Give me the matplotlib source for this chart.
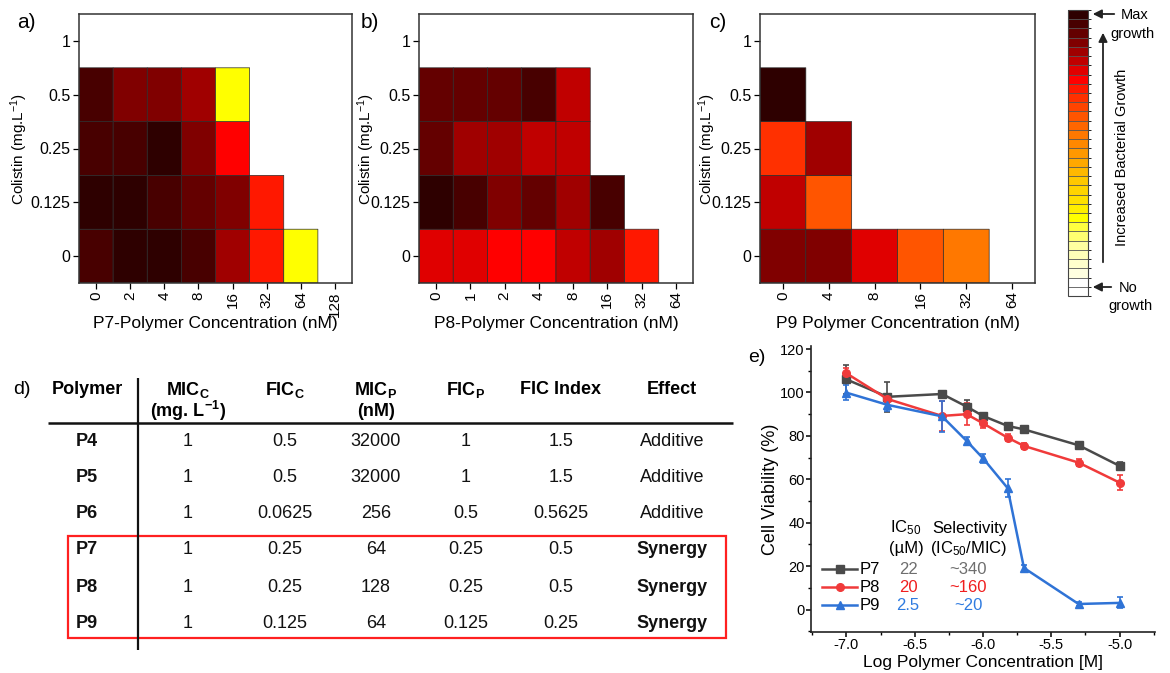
import numpy as np
import matplotlib
matplotlib.use("Agg")
from matplotlib import pyplot as plt
from matplotlib.colors import ListedColormap, BoundaryNorm
from matplotlib.cm import ScalarMappable
from matplotlib.patches import Rectangle
from matplotlib.ticker import MultipleLocator

plt.rcParams['font.family'] = ['Liberation Sans', 'DejaVu Sans']
plt.rcParams['mathtext.default'] = 'regular'
plt.rcParams['axes.unicode_minus'] = False

W, H = 1170, 673

# growth colour scale: level 0 = no growth ... level 30 = max growth
growth_colors = ['#ffffff', '#ffffff', '#ffffe0', '#ffffcc', '#ffffb8', '#ffffa0',
                 '#ffff70', '#ffff40', '#ffff00', '#ffee00', '#ffe000', '#ffd400',
                 '#ffc800', '#ffb800', '#ffa800', '#ff9800', '#ff8800', '#ff7800',
                 '#ff6600', '#ff5500', '#ff4400', '#ff3000', '#ff1800', '#ff0000',
                 '#e00000', '#c00000', '#a00000', '#800000', '#640000', '#480000',
                 '#2e0000']

colistin = ['0', '0.125', '0.25', '0.5', '1']
p7_conc = ['0', '2', '4', '8', '16', '32', '64', '128']
p8_conc = ['0', '1', '2', '4', '8', '16', '32', '64']
p9_conc = ['0', '4', '8', '16', '32', '64']

nan = np.nan
# rows: colistin 0, 0.125, 0.25, 0.5, 1
p7_growth = [[29, 30, 30, 29, 26, 22, 8, nan],
             [30, 30, 29, 28, 27, 22, nan, nan],
             [29, 29, 30, 27, 23, nan, nan, nan],
             [29, 27, 27, 26, 8, nan, nan, nan],
             [nan] * 8]
p8_growth = [[24, 24, 23, 23, 25, 26, 22, nan],
             [30, 29, 27, 28, 26, 29, nan, nan],
             [28, 26, 26, 25, 25, nan, nan, nan],
             [28, 28, 28, 29, 25, nan, nan, nan],
             [nan] * 8]
p9_growth = [[27, 27, 24, 19, 17, nan],
             [25, 19, nan, nan, nan, nan],
             [21, 26, nan, nan, nan, nan],
             [30, nan, nan, nan, nan, nan],
             [nan] * 6]

# table d
tab_polymer = ['P4', 'P5', 'P6', 'P7', 'P8', 'P9']
tab_mic_c = ['1', '1', '1', '1', '1', '1']
tab_fic_c = ['0.5', '0.5', '0.0625', '0.25', '0.25', '0.125']
tab_mic_p = ['32000', '32000', '256', '64', '128', '64']
tab_fic_p = ['1', '1', '0.5', '0.25', '0.25', '0.125']
tab_fic_index = ['1.5', '1.5', '0.5625', '0.5', '0.5', '0.25']
tab_effect = ['Additive', 'Additive', 'Additive', 'Synergy', 'Synergy', 'Synergy']

# cell viability e
log_conc = [-7.0, -6.7, -6.3, -6.12, -6.0, -5.82, -5.7, -5.3, -5.0]
p7_via = [106, 98, 99.3, 93.5, 89.2, 84.6, 83, 75.7, 66.2]
p7_err = [6.5, 7, 1.5, 3, 1.5, 1, 1, 1, 2]
p8_via = [108.8, 97, 89.2, 90, 85.8, 79.2, 75.4, 67.7, 58.5]
p8_err = [2.5, 2, 7, 5, 2, 1.5, 1.5, 1.5, 3.5]
p9_via = [99.9, 94.3, 89, 77.7, 69.7, 56, 19.2, 2.6, 3.1]
p9_err = [3.5, 3, 7, 2, 2, 4, 1.5, 1, 2.5]
ic50 = ['22', '20', '2.5']
selectivity = ['~340', '~160', '~20']

cmap = ListedColormap(growth_colors)
norm = BoundaryNorm(np.arange(-0.5, len(growth_colors) + 0.5, 1), len(growth_colors))

fig = plt.figure(figsize=(W / 100, H / 100), dpi=100)


def px_rect(x0, y0, x1, y1):
    return [x0 / W, 1 - y1 / H, (x1 - x0) / W, (y1 - y0) / H]


def heatmap(rect, conc, growth, xlabel, ylab_x):
    ax = fig.add_axes(rect)
    data = np.ma.masked_invalid(np.array(growth, dtype=float))
    # pcolor leaves the masked (blank) cells out
    ax.pcolor(np.arange(len(conc) + 1) - 0.5, np.arange(len(colistin) + 1) - 0.5, data,
              cmap=cmap, norm=norm, edgecolors='#2a2a2a', linewidth=0.5)
    ax.set_xlim(-0.5, len(conc) - 0.5)
    ax.set_ylim(-0.5, len(colistin) - 0.5)
    ax.set_xticks(range(len(conc)))
    ax.set_xticklabels(conc, rotation=90)
    ax.set_yticks(range(len(colistin)))
    ax.set_yticklabels(colistin)
    ax.tick_params(length=4, width=0.9, pad=2)
    ax.tick_params(axis='y', labelsize=11.5)
    ax.tick_params(axis='x', labelsize=11)
    ax.set_xlabel(xlabel, fontsize=12.5)
    ax.xaxis.set_label_coords(0.5, -0.122)
    ax.set_ylabel('Colistin (mg.L$^{-1}$)', fontsize=11)
    ax.yaxis.set_label_coords(ylab_x, 0.5)
    for s in ax.spines.values():
        s.set_linewidth(1.1)
        s.set_color('#333333')
    return ax


heatmap(px_rect(79, 14, 352, 283), p7_conc, p7_growth, 'P7-Polymer Concentration (nM)', -0.18)
heatmap(px_rect(419, 14, 693, 283), p8_conc, p8_growth, 'P8-Polymer Concentration (nM)', -0.152)
heatmap(px_rect(760, 14, 1035, 283), p9_conc, p9_growth, 'P9 Polymer Concentration (nM)', -0.152)

# colour bar
cax = fig.add_axes(px_rect(1068, 10, 1088, 296))
cb = fig.colorbar(ScalarMappable(norm=norm, cmap=cmap), cax=cax, drawedges=True, ticks=[])
cb.dividers.set_color('#555555')
cb.dividers.set_linewidth(0.6)
cb.outline.set_linewidth(0.8)
cb.outline.set_edgecolor('#444444')

# cell viability
ax = fig.add_axes(px_rect(811, 346, 1155, 632))
ax.errorbar(log_conc, p7_via, yerr=p7_err, color='#4a4a4a', marker='s', ms=5.5, lw=1.8,
            capsize=2.5, elinewidth=1.2, capthick=1.2)
ax.errorbar(log_conc, p8_via, yerr=p8_err, color='#f03a3a', marker='o', ms=5.5, lw=1.8,
            capsize=2.5, elinewidth=1.2, capthick=1.2)
ax.errorbar(log_conc, p9_via, yerr=p9_err, color='#2f73d6', marker='^', ms=5.5, lw=1.8,
            capsize=2.5, elinewidth=1.2, capthick=1.2)
ax.set_xlim(-7.26, -4.74)
ax.set_ylim(-10.3, 121.4)
ax.set_xticks([-7.0, -6.5, -6.0, -5.5, -5.0])
ax.set_xticklabels(['-7.0', '-6.5', '-6.0', '-5.5', '-5.0'])
ax.set_yticks([0, 20, 40, 60, 80, 100, 120])
ax.xaxis.set_minor_locator(MultipleLocator(0.25))
ax.yaxis.set_minor_locator(MultipleLocator(10))
ax.spines['top'].set_visible(False)
ax.spines['right'].set_visible(False)
for s in ['left', 'bottom']:
    ax.spines[s].set_linewidth(1.2)
    ax.spines[s].set_color('#222222')
ax.tick_params(which='major', length=3.5, width=1.1, labelsize=10.5, pad=1)
ax.tick_params(which='minor', length=2.2, width=1.0)
ax.set_xlabel('Log Polymer Concentration [M]', fontsize=12.5)
ax.set_ylabel('Cell Viability (%)', fontsize=13)
ax.xaxis.set_label_coords(0.5, -0.079)
ax.yaxis.set_label_coords(-0.093, 0.5)

# overlay in pixel coordinates for table and annotations
ov = fig.add_axes([0, 0, 1, 1])
ov.set_xlim(0, W)
ov.set_ylim(H, 0)
ov.axis('off')

for t, x in [('a)', 26), ('b)', 370), ('c)', 718)]:
    ov.text(x, 22, t, fontsize=15, ha='center', va='center')
ov.text(22, 390, 'd)', fontsize=14, ha='center', va='center')
ov.text(757, 358, 'e)', fontsize=14, ha='center', va='center')

# colour bar notes
arr = dict(arrowstyle='-|>', color='#222222', lw=1.3, mutation_scale=13)
ov.annotate('', xy=(1090, 14), xytext=(1117, 14), arrowprops=arr)
ov.annotate('', xy=(1090, 287), xytext=(1114, 287), arrowprops=arr)
ov.annotate('', xy=(1103, 30), xytext=(1103, 265), arrowprops=arr)
ov.text(1135, 15, 'Max', fontsize=10.5, ha='center', va='center')
ov.text(1132, 34, 'growth', fontsize=10.5, ha='center', va='center')
ov.text(1128, 288, 'No', fontsize=10.5, ha='center', va='center')
ov.text(1130, 306, 'growth', fontsize=10.5, ha='center', va='center')
ov.text(1122, 157, 'Increased Bacterial Growth', fontsize=10.5, rotation=90,
        ha='center', va='center')

# table
col_x = [87, 188, 285, 376, 466, 561, 672]
row_y = [442, 478, 514, 550, 587, 623]
headers = ['Polymer', 'MIC$_C$', 'FIC$_C$', 'MIC$_P$', 'FIC$_P$', 'FIC Index', 'Effect']
for x, h in zip(col_x, headers):
    ov.text(x, 390, h, fontsize=13, fontweight='bold', ha='center', va='center')
ov.text(col_x[1], 411, '(mg. L$^{-1}$)', fontsize=13, fontweight='bold', ha='center', va='center')
ov.text(col_x[3], 411, '(nM)', fontsize=13, fontweight='bold', ha='center', va='center')
ov.plot([48, 733], [423, 423], color='#111111', lw=1.8, solid_capstyle='butt')
ov.plot([138, 138], [378, 650], color='#111111', lw=1.6, solid_capstyle='butt')
ov.add_patch(Rectangle((68, 536), 658, 102, fill=False, edgecolor='#ff2020', lw=1.6))

columns = [tab_polymer, tab_mic_c, tab_fic_c, tab_mic_p, tab_fic_p, tab_fic_index, tab_effect]
for j, (x, col) in enumerate(zip(col_x, columns)):
    for y, val in zip(row_y, col):
        bold = j == 0 or (j == 6 and val == 'Synergy')
        ov.text(x, y, val, fontsize=13, fontweight='bold' if bold else 'normal',
                ha='center', va='center', color='#111111')

# legend of e
leg_y = [569, 587, 605]
leg_c = ['#4a4a4a', '#f03a3a', '#2f73d6']
leg_m = ['s', 'o', '^']
txt_c = ['#6e6e6e', '#f01e1e', '#2f7be0']
for y, c, m, name, ic, sel, tc in zip(leg_y, leg_c, leg_m, ['P7', 'P8', 'P9'], ic50, selectivity, txt_c):
    ov.plot([822, 840, 857], [y, y, y], color=c, lw=1.8, marker=m, ms=5.5, markevery=[1])
    ov.text(860, y, name, fontsize=12, ha='left', va='center')
    ov.text(908, y, ic, fontsize=12, ha='center', va='center', color=tc)
    ov.text(968, y, sel, fontsize=12, ha='center', va='center', color=tc)
ov.text(906, 528, 'IC$_{50}$', fontsize=12, ha='center', va='center')
ov.text(906, 548, '(µM)', fontsize=12, ha='center', va='center')
ov.text(970, 528, 'Selectivity', fontsize=12, ha='center', va='center')
ov.text(969, 548, '(IC$_{50}$/MIC)', fontsize=12, ha='center', va='center')

fig.savefig('out.png', dpi=100)
